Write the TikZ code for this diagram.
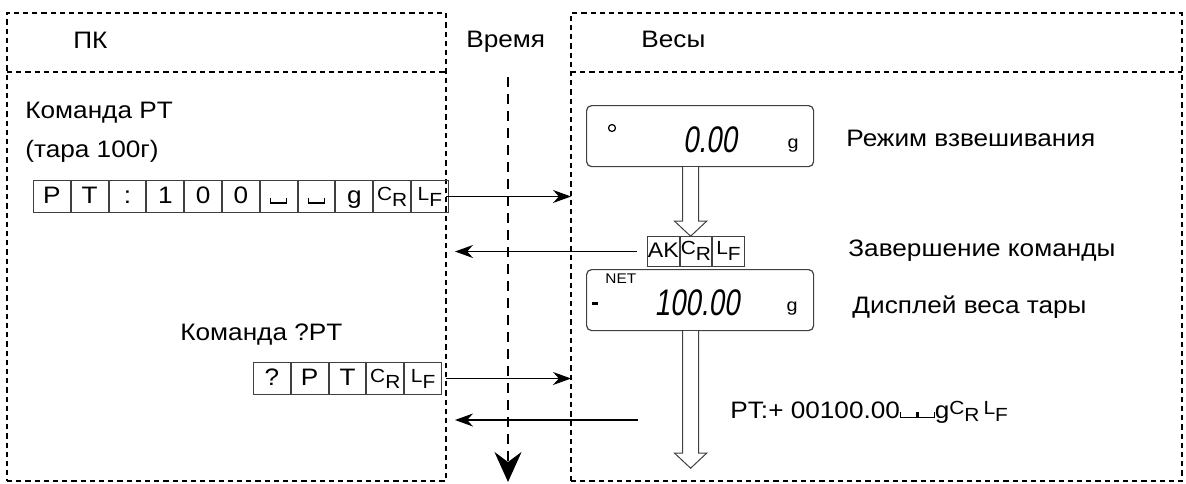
\documentclass[tikz,border=0pt]{standalone}
\usepackage{fontspec}
\setmainfont{Liberation Sans}[FakeStretch=1.1]
\newfontfamily\lcdfont{Liberation Sans}[FakeStretch=0.75, FakeSlant=0.15]
\usetikzlibrary{arrows.meta, positioning, calc}

\newcommand{\cRet}{{\fontsize{9.5}{9.5}\selectfont\raisebox{1.6pt}{C}\raisebox{-1.6pt}{R}}}
\newcommand{\lFeed}{{\fontsize{9.5}{9.5}\selectfont\raisebox{1.6pt}{L}\raisebox{-1.6pt}{F}}}
\newcommand{\spc}{\rule{0.6pt}{3pt}\rule{7.5pt}{0.6pt}\rule{0.6pt}{3pt}}

\begin{document}
\begin{tikzpicture}[
    x=0.5pt, y=-0.5pt,
    font=\fontsize{11.9}{14}\selectfont,
    dashbox/.style={draw, line width=1pt, dash pattern=on 2.6pt off 2pt, minimum width=#1, minimum height=234pt, inner sep=0pt, outer sep=0pt, anchor=north west},
    sepline/.style={line width=1pt, dash pattern=on 2.6pt off 2pt},
    timeline/.style={line width=1pt, dash pattern=on 5pt off 3.5pt, -{Stealth[length=15pt, width=13.5pt, inset=5pt]}},
    txt/.style={anchor=base west, inner sep=0pt},
    cell/.style={draw=black!75, line width=0.5pt, minimum width=18.4pt, minimum height=16pt, inner sep=0pt, text height=9pt, text depth=2pt},
    akcell/.style={draw=black!75, line width=0.5pt, minimum width=15.8pt, minimum height=15pt, inner sep=0pt, text height=8pt, text depth=2pt, font=\fontsize{10.5}{12}\selectfont},
    disp/.style={draw=black!75, line width=0.6pt, rounded corners=2.5pt, minimum width=113.5pt, minimum height=30.5pt, inner sep=0pt, anchor=north west},
    lcd/.style={font=\lcdfont\fontsize{18.5}{18.5}\selectfont, anchor=base, inner sep=0pt},
    unit/.style={font=\fontsize{9}{9}\selectfont, anchor=base, inner sep=0pt},
    msg/.style={-{Stealth[length=9pt, width=6.5pt]}, line width=0.65pt},
    hollow/.style={draw=black!75, line width=0.5pt, fill=white},
]
    \useasboundingbox (0,0) rectangle (1186,483);

    % Frames
    \node[dashbox=219.5pt] (pc) at (7,13) {};
    \node[dashbox=305.5pt] (scale) at (571,13) {};
    \draw[sepline] ([yshift=-29.5pt]pc.north west) -- ([yshift=-29.5pt]pc.north east);
    \draw[sepline] ([yshift=-29.5pt]scale.north west) -- ([yshift=-29.5pt]scale.north east);

    % Titles
    \node[txt] (pctitle) at (73,48) {ПК};
    \node[txt] (timetitle) at (466,47) {Время};
    \node[txt] (scaletitle) at (641,47) {Весы};

    % Time axis
    \coordinate (t0) at (508,77);
    \coordinate (t1) at (508,482);
    \draw[timeline] (t0) -- (t1);

    % PT command
    \node[txt] (cmd1) at (25,118) {Команда PT};
    \node[txt] (cmd1b) at (25,157) {(тара 100г)};
    \node[cell, anchor=north west] (p1) at (33,180) {P};
    \foreach \s [count=\i from 2] in {T, :, 1, 0, 0, \spc, \spc, g, \cRet, \lFeed} {
        \pgfmathtruncatemacro\j{\i-1}
        \node[cell, right=0pt of p\j] (p\i) {\s};
    }

    % ?PT command
    \node[txt] (cmd2) at (180,340) {Команда ?PT};
    \node[cell, anchor=north west] (q1) at (253,362) {?};
    \foreach \s [count=\i from 2] in {P, T, \cRet, \lFeed} {
        \pgfmathtruncatemacro\j{\i-1}
        \node[cell, right=0pt of q\j] (q\i) {\s};
    }

    % Weighing mode
    \node[disp] (disp1) at (586,105) {};
    \node[circle, draw, line width=0.6pt, minimum size=3.5pt, inner sep=0pt] (dot) at (612,128) {};
    \node[lcd] (w1) at (710,152) {0.00};
    \node[unit] (g1) at (793,148) {g};
    \node[txt] (mode) at (846,146) {Режим взвешивания};

    % Acknowledge
    \node[akcell, anchor=north west] (ak1) at (647,236) {AK};
    \node[akcell, right=0pt of ak1] (ak2) {\cRet};
    \node[akcell, right=0pt of ak2] (ak3) {\lFeed};
    \node[txt] (done) at (848,256) {Завершение команды};

    % Tare display
    \node[disp] (disp2) at (586,269) {};
    \node[font=\fontsize{7}{7}\selectfont, anchor=base west, inner sep=0pt] (net) at (605,283) {NET};
    \node[inner sep=0pt] (minus) at (595,303) {\rule{3pt}{1.5pt}};
    \node[lcd] (w2) at (697,315) {100.00};
    \node[unit] (g2) at (792,311) {g};
    \node[txt] (tare) at (852,313) {Дисплей веса тары};

    % Reply
    \node[txt] (reply) at (730,418) {PT:+ 00100.00\spc\spc g\cRet\,\lFeed};

    % Hollow arrows
    \coordinate (h1) at ($(disp1.south)+(-9.5,0)$);
    \draw[hollow] ([xshift=-4pt]h1) -- ++(0,54) -- ++(-8,0) -- ++(16,15) -- ++(16,-15) -- ++(-8,0) -- ++(0,-54);
    \coordinate (h2) at ($(disp2.south)+(-9.5,0)$);
    \draw[hollow] ([xshift=-4pt]h2) -- ++(0,122) -- ++(-8,0) -- ++(16,15) -- ++(16,-15) -- ++(-8,0) -- ++(0,-122);

    % Messages
    \draw[msg] (p11.east -| pc.east) -- (p11.east -| scale.west);
    \draw[msg] ([xshift=-5pt]ak1.west) -- ([xshift=4.5pt]ak1.west -| pc.east);
    \draw[msg] (q5.east -| pc.east) -- (q5.east -| scale.west);
    \coordinate (back2) at (638,420);
    \draw[msg] (back2) -- ([xshift=4.5pt]back2 -| pc.east);
\end{tikzpicture}
\end{document}
